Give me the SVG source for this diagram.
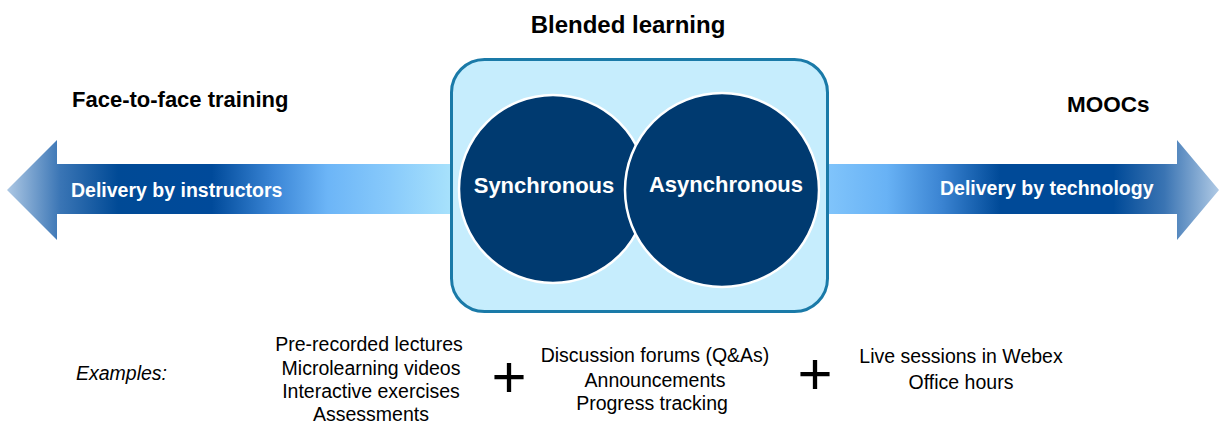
<svg xmlns="http://www.w3.org/2000/svg" width="1219" height="424" viewBox="0 0 1219 424">
<defs>
<linearGradient id="gl" gradientUnits="userSpaceOnUse" x1="7" y1="0" x2="452" y2="0">
<stop offset="0" stop-color="#adc8e4"/>
<stop offset="0.12" stop-color="#3a75b5"/>
<stop offset="0.25" stop-color="#004a96"/>
<stop offset="0.46" stop-color="#004a9a"/>
<stop offset="0.6" stop-color="#3b86d6"/>
<stop offset="0.72" stop-color="#6cb5f7"/>
<stop offset="0.86" stop-color="#88cafb"/>
<stop offset="1" stop-color="#a8e2fc"/>
</linearGradient>
<linearGradient id="gr" gradientUnits="userSpaceOnUse" x1="828" y1="0" x2="1219" y2="0">
<stop offset="0" stop-color="#80c4fb"/>
<stop offset="0.15" stop-color="#68b2f5"/>
<stop offset="0.29" stop-color="#3b84d2"/>
<stop offset="0.44" stop-color="#004a98"/>
<stop offset="0.73" stop-color="#004a98"/>
<stop offset="0.86" stop-color="#3a74b3"/>
<stop offset="1" stop-color="#b0cae5"/>
</linearGradient>
<style>
.h{font-family:"Liberation Sans",Arial,sans-serif;font-weight:bold;fill:#000}
.w{font-family:"Liberation Sans",Arial,sans-serif;font-weight:bold;fill:#fff}
.t{font-family:"Liberation Sans",Arial,sans-serif;font-size:19.5px;fill:#000;text-anchor:middle}
.circ{fill:#003a70;stroke:#fff;stroke-width:2.5}
.plus{font-family:"Liberation Sans",Arial,sans-serif;font-size:60px;fill:#000;text-anchor:middle}
</style>
</defs>
<rect width="1219" height="424" fill="#fff"/>

<g id="arrow-left">
<polygon points="7,190 57,140 57,164 453,164 453,214 57,214 57,240" fill="url(#gl)"/>
<text class="w" x="71" y="197" font-size="19.5">Delivery by instructors</text>
</g>
<g id="arrow-right">
<polygon points="826,164 1177,164 1177,140 1219,190 1177,240 1177,214 826,214" fill="url(#gr)"/>
<text class="w" x="940" y="195" font-size="19.5">Delivery by technology</text>
</g>

<g id="blended">
<rect x="451.5" y="59.5" width="376" height="252" rx="33" fill="#c6edfd" stroke="#1a7aa8" stroke-width="3"/>
</g>
<g id="synchronous">
<circle class="circ" cx="553" cy="189" r="94"/>
<text class="w" x="544" y="193" font-size="22" text-anchor="middle">Synchronous</text>
</g>
<g id="asynchronous">
<circle class="circ" cx="722" cy="190" r="97"/>
<text class="w" x="726" y="192" font-size="22" text-anchor="middle">Asynchronous</text>
</g>

<g id="titles">
<text class="h" x="628" y="33" font-size="24" text-anchor="middle">Blended learning</text>
<text class="h" x="72" y="107" font-size="22">Face-to-face training</text>
<text class="h" x="1067" y="112" font-size="22.5">MOOCs</text>
</g>

<g id="examples">
<text x="76" y="380" font-family="'Liberation Sans',Arial,sans-serif" font-size="19.5" font-style="italic">Examples:</text>
<text class="t" x="369" y="351">Pre-recorded lectures</text>
<text class="t" x="371" y="375">Microlearning videos</text>
<text class="t" x="371" y="398">Interactive exercises</text>
<text class="t" x="371" y="421">Assessments</text>
<text class="plus" x="509" y="397">+</text>
<text class="t" x="655" y="362">Discussion forums (Q&amp;As)</text>
<text class="t" x="655" y="387">Announcements</text>
<text class="t" x="652" y="410">Progress tracking</text>
<text class="plus" x="815" y="394">+</text>
<text class="t" x="961" y="363">Live sessions in Webex</text>
<text class="t" x="961" y="389">Office hours</text>
</g>
</svg>
